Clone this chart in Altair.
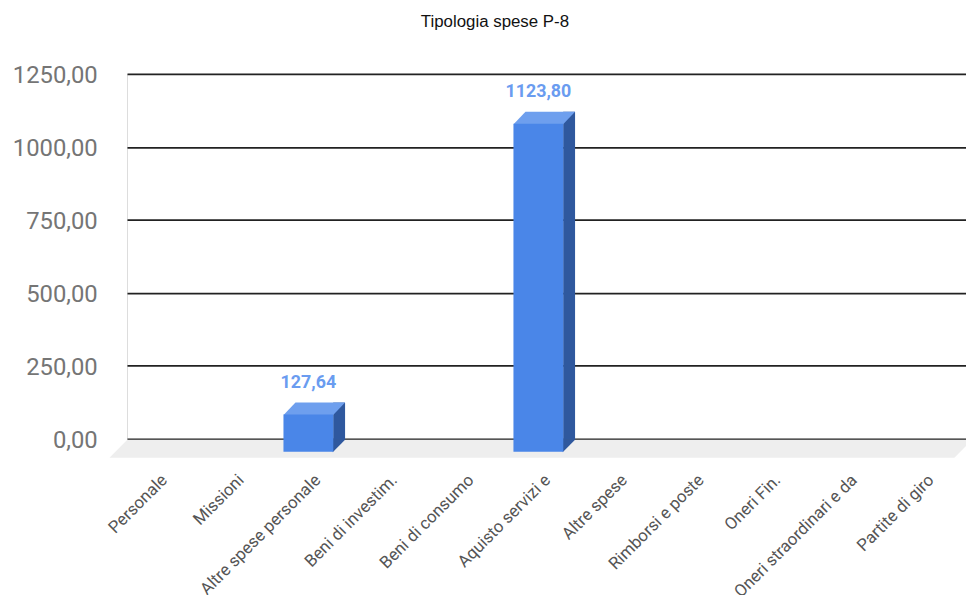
import altair as alt
import pandas as pd

# ---- data ----
categories = ["Personale", "Missioni", "Altre spese personale", "Beni di investim.",
              "Beni di consumo", "Aquisto servizi e", "Altre spese", "Rimborsi e poste",
              "Oneri Fin.", "Oneri straordinari e da", "Partite di giro"]
values = [0, 0, 127.64, 0, 0, 1123.80, 0, 0, 0, 0, 0]
y_ticks = [0, 250, 500, 750, 1000, 1250]
chart_title = "Tipologia spese P-8"

df = pd.DataFrame({"cat": categories, "v": values})
floor_df = pd.DataFrame({"cat": categories[:1], "v": [0]})

W, H = 846, 368

x_scale = alt.Scale(domain=categories, paddingInner=0.35, paddingOuter=0.147, align=0.667)
y_scale = alt.Scale(domain=[y_ticks[0], y_ticks[-1]], nice=False)

x_axis = alt.Axis(title=None, domain=False, ticks=False, labelAngle=-45, labelAlign="right",
                  labelBaseline="top", labelPadding=33, labelOffset=-8, labelFont="Roboto",
                  labelFontSize=17, labelColor="#555555", labelLimit=0, grid=False)
y_axis = alt.Axis(title=None, domain=False, ticks=False, values=y_ticks, grid=True,
                  gridColor="#222222", gridWidth=1.8, labelFont="Roboto", labelFontSize=24,
                  labelColor="#757575", labelPadding=30, labelBaseline="middle", labelOffset=2,
                  labelExpr="replace(format(datum.value, '.2f'), '.', ',')")

X = alt.X("cat:N", scale=x_scale, sort=categories, axis=x_axis)
Y = alt.Y("v:Q", scale=y_scale, axis=y_axis)

FRONT = "#4a86e8"
TOP = "#6e9fee"
SIDE = "#2f589e"

floor = alt.Chart(floor_df).mark_point(
    shape="M-40,1L812,1L794,19L-58,19Z", size=4, filled=True, opacity=1,
    color="#eeeeee", strokeWidth=0
).encode(x=X, y=Y)

bars = alt.Chart(df).transform_filter("datum.v > 0")

side = bars.mark_bar(width=12, xOffset=19, yOffset=1, y2Offset=1, color=SIDE).encode(x=X, y=Y)

side_bottom = bars.mark_point(
    shape="M12.5,0.5L12.5,13.5L25.5,0.5Z", size=4, filled=True, opacity=1,
    color=SIDE, strokeWidth=0
).encode(x=X, y=alt.Y("zero:Q", scale=y_scale, axis=y_axis)).transform_calculate(zero="0")

top = bars.mark_point(
    shape="M-37,13.5L13,13.5L25,1L-25,1Z", size=4, filled=True, opacity=1,
    color=TOP, strokeWidth=0
).encode(x=X, y=Y)

front = bars.mark_bar(xOffset=-12, yOffset=13, y2Offset=13, color=FRONT).encode(x=X, y=Y)

labels = bars.transform_calculate(
    lab="replace(format(datum.v, '.2f'), '.', ',')"
).mark_text(
    xOffset=-12, yOffset=-14, baseline="alphabetic", align="center",
    font="Roboto", fontSize=18, fontWeight="bold", color="#6a9cf0"
).encode(x=X, y=Y, text="lab:N")

chart = alt.layer(floor, side, side_bottom, top, front, labels).properties(
    width=W, height=H,
    title=alt.Title(chart_title, font="Liberation Sans", fontSize=17, fontWeight="normal",
                    color="#111111", anchor="middle", frame="group", dx=-52, offset=33),
    autosize=alt.AutoSizeParams(type="none"),
    padding={"left": 120, "top": 64, "right": 0, "bottom": 155},
).configure_view(stroke=None).configure(background="white")

chart.save("out.html", embed_options={"renderer": "svg", "actions": False})
